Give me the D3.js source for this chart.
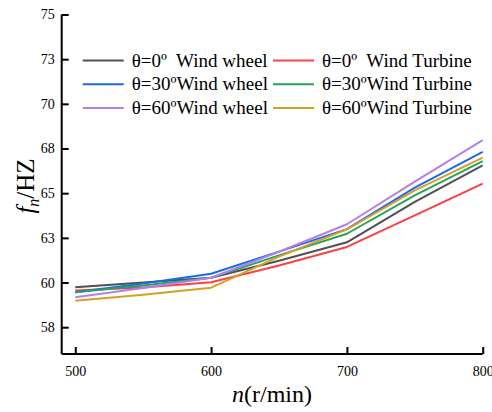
<!DOCTYPE html>
<html><head><meta charset="utf-8">
<script src="https://cdn.jsdelivr.net/npm/d3@7/dist/d3.min.js"></script>
<style>body{margin:0;background:#fff}svg{display:block}text{font-family:"Liberation Serif","Times New Roman",serif;fill:#000}</style>
</head><body><svg id="c" width="492" height="412"></svg>
<script>
const speeds = [500, 550, 600, 650, 700, 750, 800];
const w0Wheel   = [59.74, 60.00, 60.27, 61.22, 62.25, 64.51, 66.56];
const w0Turb    = [59.56, 59.72, 60.02, 60.95, 61.99, 63.76, 65.54];
const w30Wheel  = [59.45, 59.95, 60.49, 61.73, 62.99, 65.31, 67.31];
const w30Turb   = [59.45, 59.84, 60.27, 61.52, 62.73, 64.88, 66.79];
const w60Wheel  = [59.18, 59.70, 60.27, 61.72, 63.26, 65.65, 67.97];
const w60Turb   = [58.98, 59.32, 59.71, 61.45, 62.98, 65.16, 66.99];
const seriesNames = ["θ=0º  Wind wheel","θ=0º  Wind Turbine","θ=30ºWind wheel","θ=30ºWind Turbine","θ=60ºWind wheel","θ=60ºWind Turbine"];
const seriesColors = ["#505050","#ff4040","#1a6ae8","#22a55a","#b87ee8","#d4a020"];
const seriesData = [w0Wheel, w0Turb, w30Wheel, w30Turb, w60Wheel, w60Turb];
const xTicks = [500, 600, 700, 800];
const yTicks = [57.5, 60, 62.5, 65, 67.5, 70, 72.5, 75];

const FONT = "Liberation Serif";
const svg = d3.select("#c");
const L = 61.7, R = 482.7, T = 14.5, B = 354;
const x = d3.scaleLinear().domain([490, 800]).range([L, R]);
const y = d3.scaleLinear().domain([56, 75]).range([B, T]);

const g = svg.append("g");
const line = d3.line().x((d,i)=>x(speeds[i])).y(d=>y(d));
seriesData.forEach((s,k)=>{
  g.append("path").attr("d", line(s)).attr("fill","none")
   .attr("stroke", seriesColors[k]).attr("stroke-width",2).attr("stroke-linejoin","round");
});

const xAxis = d3.axisBottom(x).tickValues(xTicks).tickSize(-7).tickPadding(12).tickFormat(d3.format("d"));
const yAxis = d3.axisLeft(y).tickValues(yTicks).tickSize(-7).tickPadding(7).tickFormat(d=>Math.round(d+0.001));
const gx = svg.append("g").attr("transform",`translate(0,${B})`).call(xAxis);
const gy = svg.append("g").attr("transform",`translate(${L},0)`).call(yAxis);
[gx,gy].forEach(a=>{
  a.attr("font-family",FONT);
  a.select(".domain").attr("stroke","#000").attr("stroke-width",2);
  a.selectAll(".tick line").attr("stroke","#000").attr("stroke-width",2);
  a.selectAll(".tick text").attr("font-family",FONT).attr("font-size",14).attr("fill","#000");
});
gx.select(".domain").attr("d",`M${L},0H${R}`);
gy.select(".domain").attr("d",`M0,${B}V${T}`);

svg.append("text").attr("x",272).attr("y",402).attr("text-anchor","middle").attr("font-size",24).attr("font-family",FONT)
  .html('<tspan font-style="italic">n</tspan>(r/min)');
const yl = svg.append("text").attr("transform","translate(34,186) rotate(-90)").attr("text-anchor","middle").attr("font-size",25).attr("font-family",FONT);
yl.append("tspan").attr("font-style","italic").text("f");
yl.append("tspan").attr("font-style","italic").attr("font-size",16).attr("dy",5).text("n");
yl.append("tspan").attr("dy",-5).text("/HZ");

const legX = [82.7, 273], legY = [60.5, 84.2, 108];
seriesNames.forEach((n,k)=>{
  const col = k%2, row = Math.floor(k/2);
  const lx = legX[col], ly = legY[row];
  svg.append("line").attr("x1",lx).attr("x2",lx+41).attr("y1",ly).attr("y2",ly)
    .attr("stroke",seriesColors[k]).attr("stroke-width",2);
  svg.append("text").attr("x",lx+49).attr("y",ly+6).attr("font-size",19).attr("font-family",FONT)
    .style("white-space","pre").text(n);
});
</script></body></html>
